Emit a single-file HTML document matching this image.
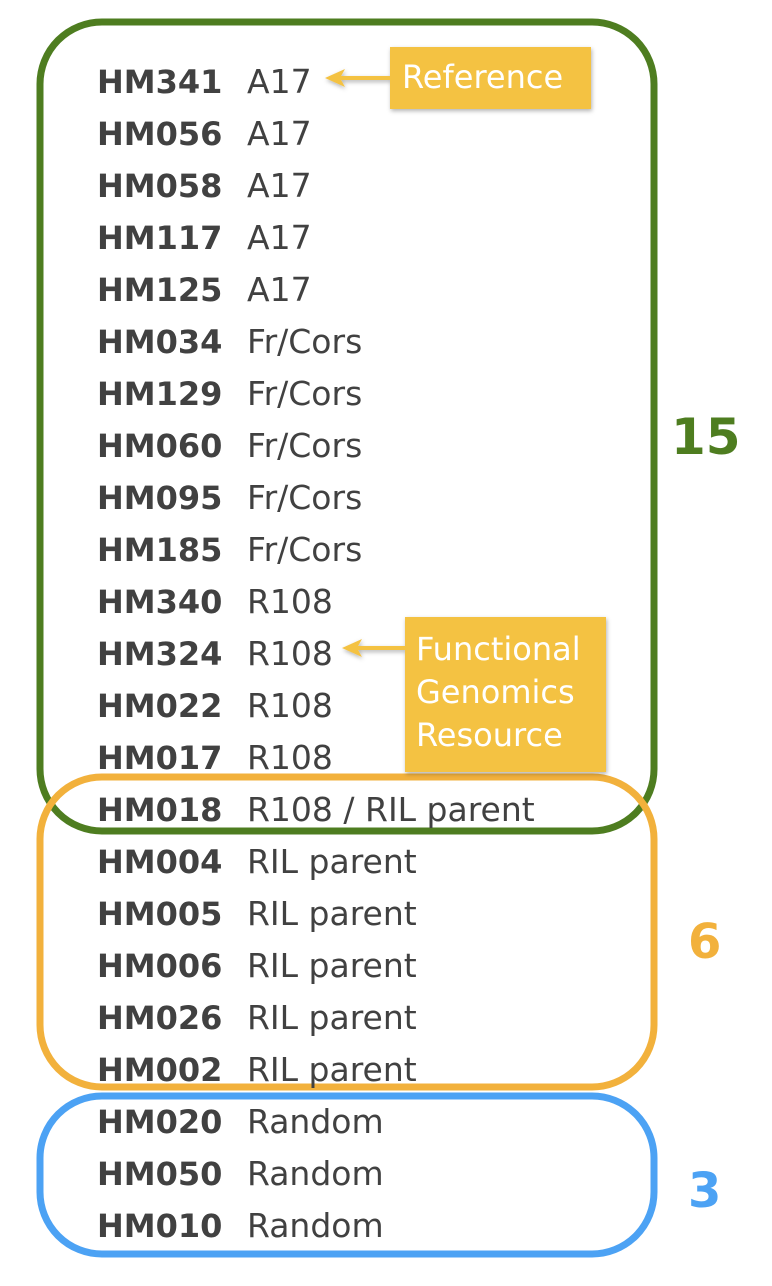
<!DOCTYPE html>
<html><head><meta charset="utf-8"><style>
html,body{margin:0;padding:0;background:#fff;}
svg{display:block}
.b{font-family:"DejaVu Sans",Verdana,sans-serif;font-weight:bold;font-size:32px;fill:#414141}
.r{font-family:"DejaVu Sans",Verdana,sans-serif;font-size:33px;fill:#414141}
.w{font-family:"DejaVu Sans",Verdana,sans-serif;font-size:32px;fill:#fff}
</style></head><body>
<svg width="772" height="1286" viewBox="0 0 772 1286" xmlns="http://www.w3.org/2000/svg">
<defs><filter id="sh" x="-10%" y="-10%" width="130%" height="130%"><feDropShadow dx="1" dy="2" stdDeviation="2" flood-color="#000" flood-opacity="0.3"/></filter></defs>
<rect x="40" y="22" width="614" height="809" rx="62" fill="none" stroke="#4e7d20" stroke-width="7"/>
<rect x="40" y="777" width="614" height="310" rx="62" fill="none" stroke="#f2b13c" stroke-width="7"/>
<rect x="40" y="1096" width="614" height="158" rx="62" fill="none" stroke="#4ca2f4" stroke-width="7"/>
<g class="b">
<text x="97" y="93">HM341</text><text x="97" y="145">HM056</text><text x="97" y="197">HM058</text><text x="97" y="249">HM117</text><text x="97" y="301">HM125</text><text x="97" y="353">HM034</text><text x="97" y="405">HM129</text><text x="97" y="457">HM060</text><text x="97" y="509">HM095</text><text x="97" y="561">HM185</text><text x="97" y="613">HM340</text><text x="97" y="665">HM324</text><text x="97" y="717">HM022</text><text x="97" y="769">HM017</text><text x="97" y="821">HM018</text><text x="97" y="873">HM004</text><text x="97" y="925">HM005</text><text x="97" y="977">HM006</text><text x="97" y="1029">HM026</text><text x="97" y="1081">HM002</text><text x="97" y="1133">HM020</text><text x="97" y="1185">HM050</text><text x="97" y="1237">HM010</text>
</g>
<g class="r">
<text x="247" y="93">A17</text><text x="247" y="145">A17</text><text x="247" y="197">A17</text><text x="247" y="249">A17</text><text x="247" y="301">A17</text><text x="247" y="353">Fr/Cors</text><text x="247" y="405">Fr/Cors</text><text x="247" y="457">Fr/Cors</text><text x="247" y="509">Fr/Cors</text><text x="247" y="561">Fr/Cors</text><text x="247" y="613">R108</text><text x="247" y="665">R108</text><text x="247" y="717">R108</text><text x="247" y="769">R108</text><text x="247" y="821">R108 / RIL parent</text><text x="247" y="873">RIL parent</text><text x="247" y="925">RIL parent</text><text x="247" y="977">RIL parent</text><text x="247" y="1029">RIL parent</text><text x="247" y="1081">RIL parent</text><text x="247" y="1133">Random</text><text x="247" y="1185">Random</text><text x="247" y="1237">Random</text>
</g>
<text x="671" y="454" font-family="DejaVu Sans,sans-serif" font-weight="bold" font-size="50" fill="#4e7d20">15</text>
<text x="688" y="958" font-family="DejaVu Sans,sans-serif" font-weight="bold" font-size="48" fill="#f2b13c">6</text>
<text x="688" y="1207" font-family="DejaVu Sans,sans-serif" font-weight="bold" font-size="48" fill="#4ca2f4">3</text>
<g filter="url(#sh)" fill="#f4c243">
<rect x="390" y="47" width="201" height="62"/>
<rect x="405" y="617" width="201" height="155"/>
<line x1="390" y1="78" x2="332" y2="78" stroke="#f4c243" stroke-width="4"/>
<polygon points="325,78 345,69 340,78 345,87"/>
<line x1="405" y1="648" x2="348" y2="648" stroke="#f4c243" stroke-width="4"/>
<polygon points="342,648 362,639 357,648 362,657"/>
</g>
<g class="w">
<text x="402" y="88">Reference</text>
<text x="416" y="660">Functional</text>
<text x="416" y="703">Genomics</text>
<text x="416" y="746">Resource</text>
</g>
</svg>
</body></html>
